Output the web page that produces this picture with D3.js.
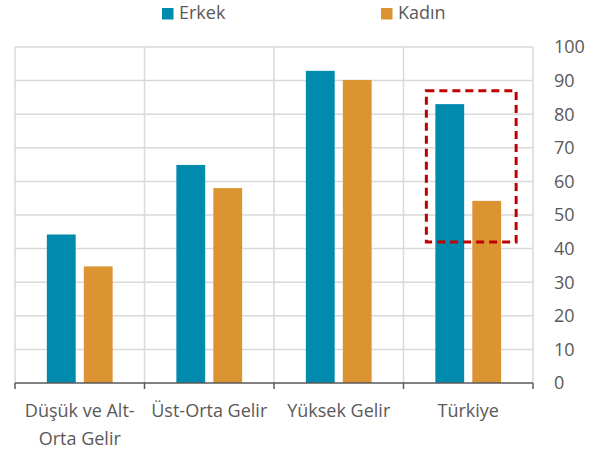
<!DOCTYPE html>
<html>
<head>
<meta charset="utf-8">
<script src="https://cdn.jsdelivr.net/npm/d3@7"></script>
<style>
  body { margin: 0; background: #fff; }
  text { font-family: "Open Sans", sans-serif; fill: #595959; }
</style>
</head>
<body>
<div id="chart"></div>
<script>
// Data
const categories = [["Düşük ve Alt-", "Orta Gelir"], ["Üst-Orta Gelir"], ["Yüksek Gelir"], ["Türkiye"]];
const series = ["Erkek", "Kadın"];
const erkek = [44.2, 64.9, 92.9, 83.0];
const kadin = [34.7, 58.0, 90.2, 54.2];
const yTicks = [0, 10, 20, 30, 40, 50, 60, 70, 80, 90, 100];
const highlight = { index: 3, top: 87, bottom: 42 };

const colors = { "Erkek": "#008aad", "Kadın": "#dc9433" };

const width = 600, height = 450;
const margin = { top: 47, right: 67, bottom: 67, left: 15 };

const svg = d3.select("#chart").append("svg")
    .attr("width", width)
    .attr("height", height);

const catKeys = categories.map((c, i) => i);

// Scales
const x0 = d3.scaleBand()
    .domain(catKeys)
    .range([margin.left, width - margin.right])
    .padding(0);

const bw = x0.bandwidth();
const x1 = d3.scaleBand()
    .domain(series)
    .range([bw * 0.246, bw * 0.754])
    .paddingInner(0.22);

const y = d3.scaleLinear()
    .domain([0, 100])
    .range([height - margin.bottom, margin.top]);

// Horizontal gridlines
svg.append("g")
    .selectAll("line")
    .data(yTicks.filter(d => d > 0))
    .enter().append("line")
    .attr("x1", margin.left)
    .attr("x2", width - margin.right)
    .attr("y1", d => y(d))
    .attr("y2", d => y(d))
    .attr("stroke", "#d9d9d9")
    .attr("stroke-width", 1.5);

// Vertical gridlines at category boundaries
const bounds = catKeys.map(k => x0(k)).concat([x0(catKeys[catKeys.length - 1]) + bw]);
svg.append("g")
    .selectAll("line")
    .data(bounds)
    .enter().append("line")
    .attr("x1", d => d)
    .attr("x2", d => d)
    .attr("y1", y(100))
    .attr("y2", y(0))
    .attr("stroke", "#d9d9d9")
    .attr("stroke-width", 1.5);

// Bars
const rows = catKeys.map(i => ({ i, values: [["Erkek", erkek[i]], ["Kadın", kadin[i]]] }));

const groups = svg.append("g")
    .selectAll("g")
    .data(rows)
    .enter().append("g")
    .attr("transform", d => `translate(${x0(d.i)},0)`);

groups.selectAll("rect")
    .data(d => d.values)
    .enter().append("rect")
    .attr("x", d => x1(d[0]))
    .attr("width", x1.bandwidth())
    .attr("y", d => y(d[1]))
    .attr("height", d => y(0) - y(d[1]))
    .attr("fill", d => colors[d[0]]);

// Bottom axis
const axisG = svg.append("g");
axisG.append("line")
    .attr("x1", margin.left)
    .attr("x2", width - margin.right)
    .attr("y1", y(0))
    .attr("y2", y(0))
    .attr("stroke", "#595959")
    .attr("stroke-width", 1.5);

axisG.selectAll(".tick")
    .data(bounds)
    .enter().append("line")
    .attr("x1", d => d)
    .attr("x2", d => d)
    .attr("y1", y(0))
    .attr("y2", y(0) + 6)
    .attr("stroke", "#595959")
    .attr("stroke-width", 1.5);

const labels = axisG.selectAll(".cat")
    .data(categories)
    .enter().append("text")
    .attr("text-anchor", "middle")
    .attr("font-size", 18);

labels.selectAll("tspan")
    .data((d, i) => d.map(line => ({ line, i })))
    .enter().append("tspan")
    .attr("x", d => x0(d.i) + bw / 2)
    .attr("y", (d, j) => y(0) + 34 + j * 27.5)
    .text(d => d.line);

// Right value axis labels
svg.append("g")
    .selectAll("text")
    .data(yTicks)
    .enter().append("text")
    .attr("x", 554)
    .attr("y", d => y(d))
    .attr("dy", "0.35em")
    .attr("font-size", 18)
    .text(d => d);

// Highlight box
const hx = x0(highlight.index);
svg.append("rect")
    .attr("x", hx + x1("Erkek") - 9)
    .attr("y", y(highlight.top))
    .attr("width", x1("Kadın") + x1.bandwidth() + 15 - (x1("Erkek") - 9))
    .attr("height", y(highlight.bottom) - y(highlight.top))
    .attr("fill", "none")
    .attr("stroke", "#c00000")
    .attr("stroke-width", 3)
    .attr("stroke-dasharray", "8,5");

// Legend
const legendPos = [162, 381];
const legend = svg.append("g")
    .selectAll("g")
    .data(series)
    .enter().append("g")
    .attr("transform", (d, i) => `translate(${legendPos[i]},8)`);

legend.append("rect")
    .attr("width", 11.5)
    .attr("height", 11.5)
    .attr("fill", d => colors[d]);

legend.append("text")
    .attr("x", 17)
    .attr("y", 11)
    .attr("font-size", 18)
    .text(d => d);
</script>
</body>
</html>
